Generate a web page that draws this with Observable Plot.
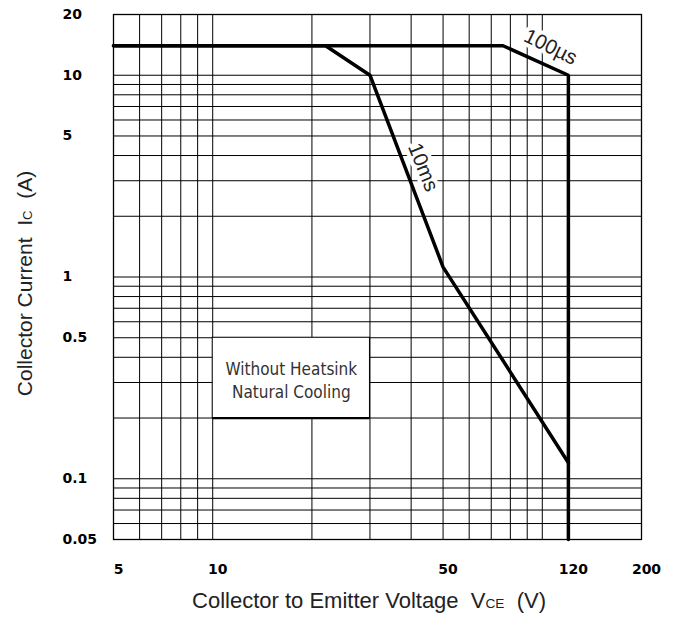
<!DOCTYPE html>
<html>
<head>
<meta charset="utf-8">
<script src="https://cdn.jsdelivr.net/npm/d3@7"></script>
<script src="https://cdn.jsdelivr.net/npm/@observablehq/plot@0.6"></script>
<style>
  html, body { margin: 0; padding: 0; background: #fff; }
  #chart svg { display: block; }
</style>
</head>
<body>
<div id="chart"></div>
<script>
// ---- data ----
const xTicks = [5, 10, 50, 120, 200];
const yTicks = [0.05, 0.1, 0.5, 1, 5, 10, 20];
const xGrid = [6, 7, 8, 9, 10, 20, 30, 40, 50, 60, 70, 80, 90, 100];
const yGrid = [0.06, 0.07, 0.08, 0.09, 0.1, 0.2, 0.3, 0.4, 0.5, 0.6, 0.7, 0.8, 0.9,
               1, 2, 3, 4, 5, 6, 7, 8, 9, 10];

// 10 ms pulse boundary
const v10ms = [5, 22, 30, 50, 120];
const i10ms = [14, 14, 10, 1.12, 0.12];
// 100 µs pulse boundary
const v100us = [5, 76, 120, 120];
const i100us = [14, 14, 10, 0.05];

const curveLabels = ["10ms", "100µs"];
const curveLabelV = [43.5, 106];
const curveLabelI = [3.5, 13.8];
const curveLabelAngle = [68, 26];

const boxText = "Without Heatsink\nNatural Cooling";
const boxV = [10, 30];
const boxI = [0.2, 0.5];

const xTitle = ["Collector to Emitter Voltage  V", "CE", "  (V)"];
const yTitle = ["Collector Current  I", "C", "  (A)"];

// ---- tables ----
const lines = [
  ...v10ms.map((v, k) => ({series: "10ms", v, i: i10ms[k]})),
  ...v100us.map((v, k) => ({series: "100us", v, i: i100us[k]}))
];
const labels = curveLabels.map((t, k) => ({t, v: curveLabelV[k], i: curveLabelI[k], a: curveLabelAngle[k]}));

const W = 673, H = 617;
const mL = 113, mR = 32, mT = 14, mB = 78;
const tickFont = {fontFamily: "DejaVu Sans, sans-serif", fontWeight: "bold", fontSize: 14, fill: "black"};

const chart = Plot.plot({
  width: W,
  height: H,
  marginLeft: mL,
  marginRight: mR,
  marginTop: mT,
  marginBottom: mB,
  style: {background: "white", color: "black"},
  x: {type: "log", domain: [5, 200], axis: null},
  y: {type: "log", domain: [0.05, 20], axis: null},
  marks: [
    Plot.ruleX(xGrid, {stroke: "black", strokeWidth: 1}),
    Plot.ruleY(yGrid, {stroke: "black", strokeWidth: 1}),
    Plot.rect([{}], {x1: boxV[0], x2: boxV[1], y1: boxI[0], y2: boxI[1], fill: "white", stroke: "black", strokeWidth: 1}),
    Plot.ruleY([boxI[0]], {x1: boxV[0], x2: boxV[1], stroke: "black", strokeWidth: 2.2}),
    Plot.text([boxText], {x: Math.sqrt(boxV[0] * boxV[1]), y: Math.sqrt(boxI[0] * boxI[1]), text: d => d,
      fontFamily: "Liberation Sans Narrow, DejaVu Sans Condensed, sans-serif", fontSize: 17, lineHeight: 1.35, fill: "#333", dy: 1}),
    Plot.frame({stroke: "black", strokeWidth: 1.3}),
    Plot.line(lines, {x: "v", y: "i", z: "series", stroke: "black", strokeWidth: 3.5, strokeLinejoin: "miter"}),
    Plot.text(labels, {x: "v", y: "i", text: "t", rotate: "a", fontFamily: "Liberation Sans, Arial, sans-serif",
      fontSize: 20.5, fill: "#222", stroke: "white", strokeWidth: 8}),
    // tick labels (x)
    Plot.text(xTicks, {x: d => d, frameAnchor: "bottom", text: d => String(d), lineAnchor: "middle", dy: 30, dx: 5, ...tickFont}),
    // tick labels (y)
    Plot.text(yTicks, {y: d => d, frameAnchor: "left", text: d => String(d), textAnchor: "start", lineAnchor: "middle", dx: -51, ...tickFont})
  ]
});

document.getElementById("chart").appendChild(chart);

// axis titles with subscripts
const svg = d3.select(chart);
function addTitle(parts, transform, size) {
  const t = svg.append("text")
    .attr("transform", transform)
    .attr("text-anchor", "middle")
    .attr("font-family", "Liberation Sans, Arial, sans-serif")
    .attr("font-size", size)
    .attr("fill", "#222")
    .style("white-space", "pre");
  t.append("tspan").text(parts[0]);
  t.append("tspan").attr("font-size", "0.62em").text(parts[1]);
  t.append("tspan").text(parts[2]);
}
const plotCx = mL + (W - mL - mR) / 2;
const plotCy = mT + (H - mT - mB) / 2;
addTitle(xTitle, `translate(${plotCx - 8},${H - 9})`, 22);
addTitle(yTitle, `translate(32,${plotCy + 7}) rotate(-90)`, 21);
</script>
</body>
</html>
